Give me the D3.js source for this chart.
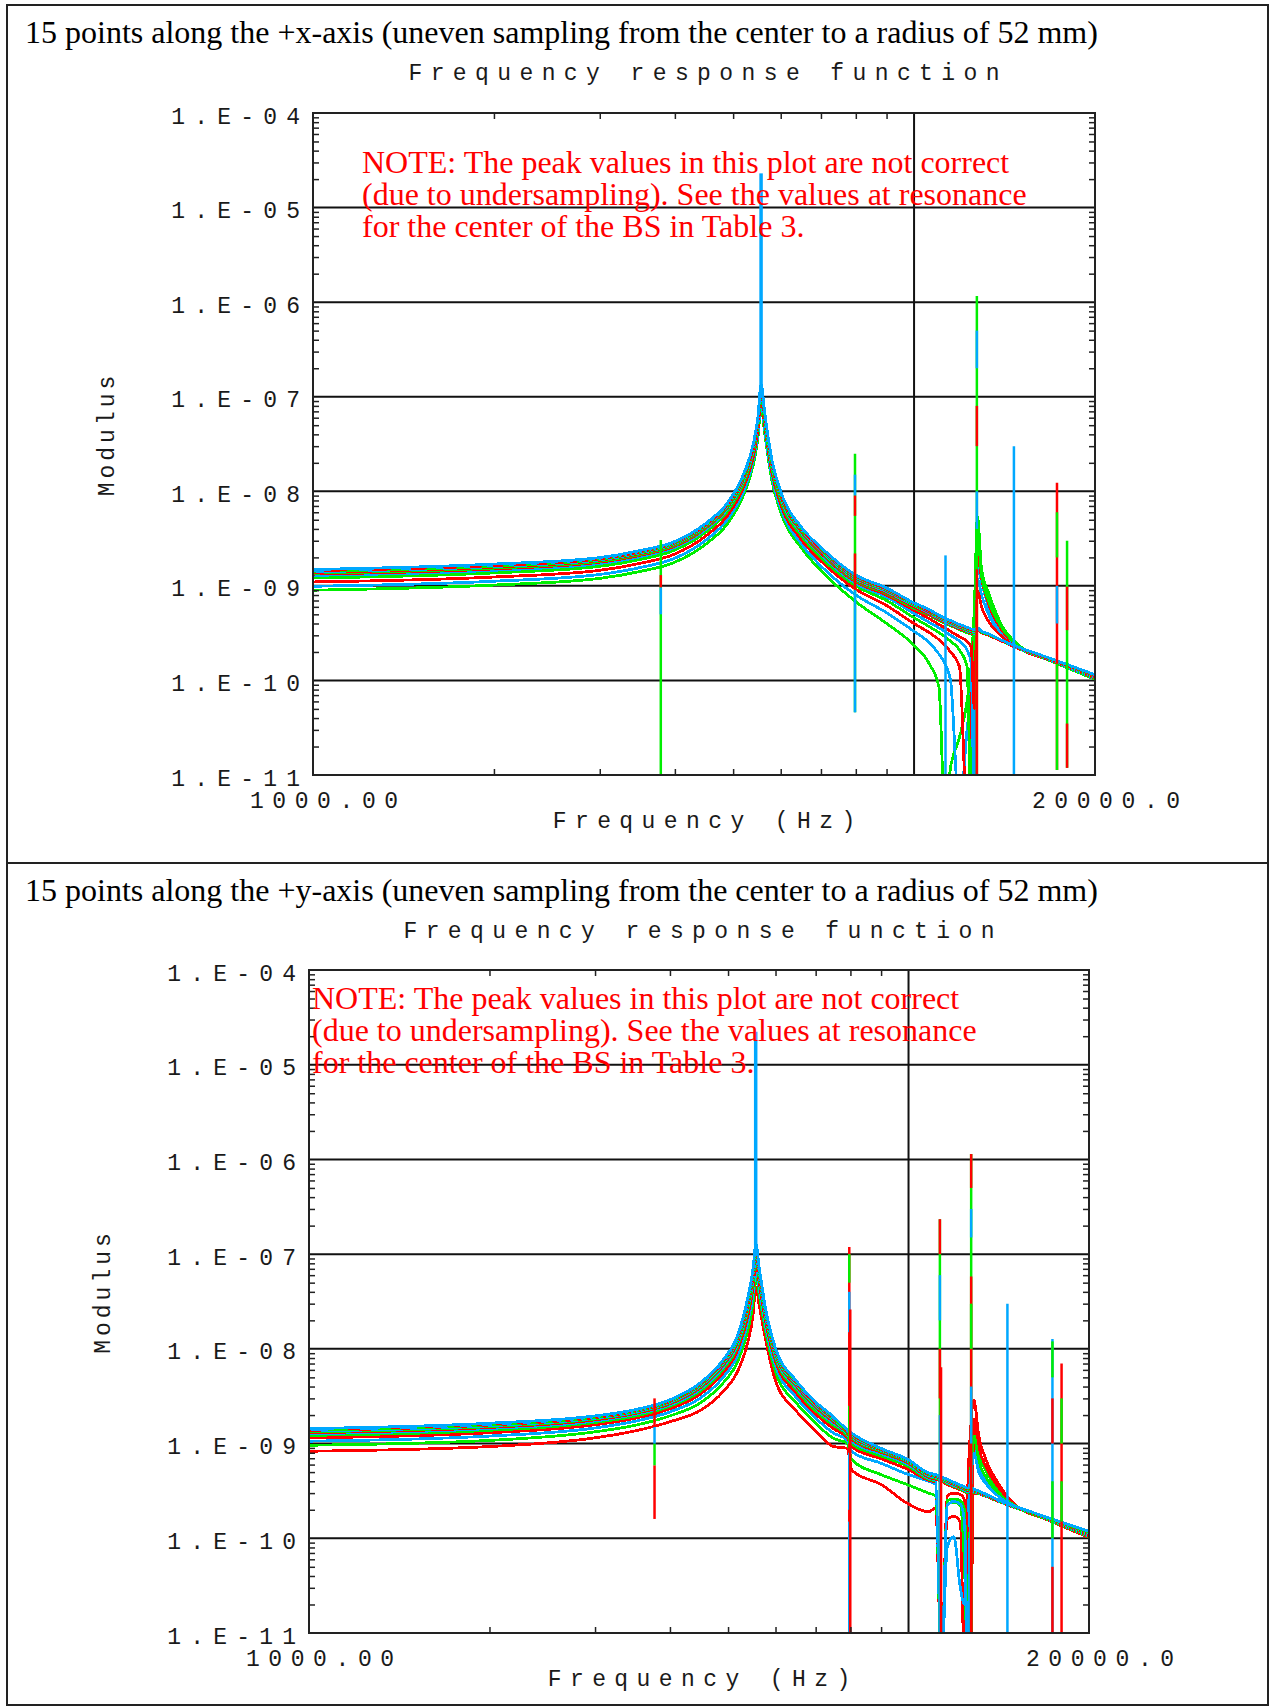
<!DOCTYPE html>
<html>
<head>
<meta charset="utf-8">
<script src="https://cdn.jsdelivr.net/npm/d3@7"></script>
<style>
  html, body { margin: 0; padding: 0; background: #fff; }
  svg { display: block; }
</style>
</head>
<body>
<svg id="chart" width="1275" height="1707"></svg>
<script>
// FRF modulus plots, two panels (+x and +y axis sampling)

const NANO = 1e-9; // curve and spike values below are in units of 1e-9

const HEADER_1 = '15 points along the +x-axis (uneven sampling from the center to a radius of 52 mm)';
const HEADER_2 = '15 points along the +y-axis (uneven sampling from the center to a radius of 52 mm)';
const PLOT_TITLE = 'Frequency response function';
const X_TITLE = 'Frequency (Hz)';
const Y_TITLE = 'Modulus';
const NOTE_LINES = [
    'NOTE: The peak values in this plot are not correct',
    '(due to undersampling). See the values at resonance',
    'for the center of the BS in Table 3.'
];

const Y_TICKS = [1e-4, 1e-5, 1e-6, 1e-7, 1e-8, 1e-9, 1e-10, 1e-11];
const Y_TICK_LABELS = ['1.E-04', '1.E-05', '1.E-06', '1.E-07', '1.E-08', '1.E-09', '1.E-10', '1.E-11'];
const X_DOMAIN = [1000, 20000];
const X_END_LABELS = ['1000.00', '20000.0'];
const X_GRID = [10000];

// panel 1: +x-axis
const FREQ_1 = [1000, 2000, 3000, 3500, 4000, 4500, 4900, 5200, 5400, 5500, 5565, 5640, 5800, 6000, 6500, 7000, 8000, 9000, 10000,
    10600, 11000, 11250, 11500, 11900, 12250, 12450, 12600, 12750, 12950, 13300, 14000, 15000, 17000, 20000];

const CURVES_1 = [
    [0.90, 1.02, 1.20, 1.42, 1.78, 2.75, 4.6, 9.0, 19, 37, 82, 42, 13, 6.0, 2.5, 1.45, 0.68, 0.40, 0.235, 0.15, 0.085, 0.004, 0.012, 0.025, 0.06, 0.15, 0.6, 5.4, 1.5, 0.85, 0.38, 0.23, 0.158, 0.103],
    [0.99, 1.12, 1.32, 1.56, 1.96, 3.03, 5.1, 9.9, 21, 41, 90, 46, 14.3, 6.6, 2.75, 1.62, 0.80, 0.52, 0.33, 0.25, 0.19, 0.15, 0.10, 0.004, 0.03, 0.08, 0.3, 1.6, 1.1, 0.6, 0.33, 0.22, 0.16, 0.105],
    [1.10, 1.24, 1.46, 1.73, 2.17, 3.36, 5.6, 11.0, 23, 45, 100, 51, 15.9, 7.3, 3.05, 1.83, 0.92, 0.62, 0.40, 0.32, 0.27, 0.235, 0.20, 0.14, 0.004, 0.05, 0.35, 2.2, 1.2, 0.65, 0.34, 0.22, 0.161, 0.106],
    [1.21, 1.37, 1.61, 1.90, 2.39, 3.69, 6.2, 12.1, 25.5, 50, 110, 56, 17.4, 8.0, 3.35, 2.00, 1.00, 0.70, 0.46, 0.37, 0.32, 0.29, 0.26, 0.21, 0.14, 0.004, 0.4, 3.6, 1.3, 0.7, 0.36, 0.225, 0.162, 0.107],
    [1.29, 1.46, 1.72, 2.03, 2.55, 3.93, 6.6, 12.9, 27, 53, 117, 60, 18.6, 8.6, 3.58, 2.15, 1.06, 0.76, 0.51, 0.41, 0.36, 0.33, 0.30, 0.26, 0.21, 0.15, 0.004, 1.2, 0.8, 0.5, 0.30, 0.22, 0.162, 0.108],
    [1.33, 1.51, 1.78, 2.10, 2.63, 4.07, 6.8, 13.3, 28, 55, 121, 62, 19.2, 8.9, 3.70, 2.22, 1.10, 0.80, 0.55, 0.45, 0.39, 0.36, 0.33, 0.29, 0.26, 0.22, 0.05, 0.9, 0.6, 0.42, 0.29, 0.215, 0.163, 0.109],
    [1.36, 1.54, 1.81, 2.14, 2.69, 4.15, 6.9, 13.6, 29, 56, 124, 63, 19.6, 9.1, 3.78, 2.28, 1.13, 0.83, 0.58, 0.49, 0.43, 0.40, 0.38, 0.345, 0.32, 0.31, 0.30, 0.34, 0.32, 0.30, 0.26, 0.213, 0.163, 0.110],
    [1.39, 1.58, 1.86, 2.20, 2.76, 4.26, 7.1, 14.0, 29.5, 57, 127, 65, 20.2, 9.3, 3.88, 2.33, 1.16, 0.85, 0.60, 0.50, 0.44, 0.41, 0.39, 0.35, 0.33, 0.315, 0.31, 0.345, 0.32, 0.30, 0.26, 0.214, 0.164, 0.110],
    [1.41, 1.60, 1.88, 2.23, 2.79, 4.32, 7.2, 14.1, 30, 58, 129, 66, 20.4, 9.4, 3.93, 2.36, 1.18, 0.87, 0.62, 0.515, 0.45, 0.42, 0.395, 0.36, 0.335, 0.32, 0.315, 0.35, 0.325, 0.305, 0.262, 0.215, 0.164, 0.111],
    [1.43, 1.62, 1.91, 2.26, 2.83, 4.37, 7.3, 14.3, 30.2, 59, 130, 67, 20.7, 9.5, 3.98, 2.41, 1.20, 0.89, 0.63, 0.525, 0.46, 0.43, 0.405, 0.365, 0.34, 0.325, 0.32, 0.35, 0.325, 0.305, 0.262, 0.216, 0.165, 0.112],
    [1.45, 1.64, 1.93, 2.29, 2.87, 4.43, 7.4, 14.5, 30.6, 60, 132, 68, 20.9, 9.7, 4.03, 2.44, 1.22, 0.90, 0.64, 0.53, 0.465, 0.435, 0.41, 0.37, 0.345, 0.33, 0.325, 0.355, 0.33, 0.31, 0.263, 0.217, 0.165, 0.112],
    [1.46, 1.66, 1.96, 2.31, 2.90, 4.48, 7.5, 14.7, 31, 60.5, 133, 68.5, 21.2, 9.8, 4.08, 2.47, 1.24, 0.91, 0.645, 0.54, 0.47, 0.44, 0.415, 0.375, 0.35, 0.335, 0.33, 0.355, 0.33, 0.31, 0.264, 0.218, 0.166, 0.113],
    [1.47, 1.67, 1.97, 2.33, 2.92, 4.51, 7.55, 14.8, 31.2, 61, 134, 69, 21.3, 9.85, 4.10, 2.49, 1.26, 0.92, 0.65, 0.545, 0.475, 0.445, 0.42, 0.38, 0.355, 0.34, 0.335, 0.36, 0.33, 0.31, 0.265, 0.219, 0.166, 0.113],
    [1.48, 1.68, 1.98, 2.34, 2.94, 4.54, 7.6, 14.9, 31.4, 61.5, 135, 69.5, 21.5, 9.9, 4.13, 2.52, 1.28, 0.93, 0.655, 0.55, 0.483, 0.45, 0.425, 0.385, 0.36, 0.345, 0.34, 0.36, 0.33, 0.31, 0.265, 0.22, 0.167, 0.114],
    [1.49, 1.70, 1.99, 2.36, 2.95, 4.57, 7.65, 15.0, 31.6, 62, 136, 70, 21.6, 10.0, 4.15, 2.55, 1.30, 0.95, 0.66, 0.56, 0.49, 0.455, 0.43, 0.39, 0.365, 0.35, 0.345, 0.36, 0.33, 0.31, 0.266, 0.222, 0.168, 0.115]
];

// undersampled resonances: [frequency, low, high, curve index]
const SPIKES_1 = [
    [3790, 0.005, 3.05, 0], [3790, 0.96, 1.3, 2], [3790, 0.5, 0.96, 1],
    [5565, 125, 23000, 14],
    [7975, 0.046, 25, 3], [7975, 9, 15, 4], [7975, 5.5, 9, 5], [7975, 0.9, 2.2, 7], [7975, 0.046, 0.9, 8],
    [11280, 0.005, 2.1, 11],
    [12720, 0.005, 1160, 6], [12720, 200, 500, 8], [12720, 30, 80, 10], [12720, 4, 10, 11], [12720, 0.005, 1.5, 13],
    [14660, 0.005, 30, 14],
    [17290, 0.0113, 12.3, 10], [17290, 2, 6, 12], [17290, 0.4, 1, 14], [17290, 0.0113, 0.15, 9],
    [17970, 0.0119, 3.0, 12], [17970, 0.34, 0.98, 13], [17970, 0.0119, 0.035, 10]
];

// panel 2: +y-axis
const FREQ_2 = [1000, 2000, 3000, 3500, 4000, 4500, 4900, 5200, 5400, 5500, 5565, 5640, 5800, 6000, 6500, 7000, 7500, 7900, 8050, 9000,
    10000, 10800, 11100, 11350, 11600, 11900, 12200, 12400, 12550, 12700, 12850, 13100, 13500, 14200, 15000, 17000, 20000];

const CURVES_2 = [
    [0.83, 0.93, 1.15, 1.36, 1.70, 2.25, 3.5, 6.0, 12, 22, 45, 28, 11, 4.6, 2.2, 1.35, 0.93, 0.89, 0.52, 0.37, 0.23, 0.19, 0.21, 0.004, 0.16, 0.17, 0.15, 0.004, 0.3, 1.5, 2.9, 1.2, 0.65, 0.36, 0.23, 0.158, 0.102],
    [0.96, 1.08, 1.33, 1.56, 1.96, 2.70, 4.32, 7.6, 16.1, 29.8, 59.7, 35.9, 13.4, 5.7, 2.68, 1.64, 1.13, 1.01, 0.67, 0.47, 0.365, 0.30, 0.28, 0.004, 0.23, 0.24, 0.22, 0.05, 0.004, 0.5, 1.6, 0.8, 0.5, 0.31, 0.225, 0.159, 0.104],
    [1.06, 1.20, 1.46, 1.72, 2.16, 3.04, 4.96, 8.9, 19.7, 36.6, 72, 42.3, 15.3, 6.6, 3.06, 1.86, 1.29, 1.09, 0.82, 0.62, 0.47, 0.40, 0.37, 0.004, 0.08, 0.104, 0.03, 0.02, 0.15, 0.5, 1.0, 0.55, 0.4, 0.28, 0.222, 0.16, 0.105],
    [1.15, 1.30, 1.58, 1.85, 2.33, 3.34, 5.53, 10.1, 22.9, 42.8, 83.4, 48.1, 17.0, 7.4, 3.40, 2.05, 1.43, 1.16, 0.92, 0.69, 0.53, 0.41, 0.39, 0.004, 0.28, 0.30, 0.29, 0.25, 0.10, 0.004, 1.8, 0.9, 0.55, 0.33, 0.228, 0.161, 0.106],
    [1.22, 1.38, 1.67, 1.95, 2.47, 3.60, 6.03, 11.1, 25.9, 48.5, 93.5, 53.2, 18.4, 8.0, 3.69, 2.22, 1.55, 1.22, 0.99, 0.74, 0.57, 0.42, 0.40, 0.004, 0.25, 0.26, 0.25, 0.20, 0.01, 0.3, 1.2, 0.65, 0.43, 0.29, 0.224, 0.161, 0.107],
    [1.27, 1.44, 1.73, 2.03, 2.56, 3.77, 6.36, 11.8, 28.0, 52.5, 100.6, 56.7, 19.4, 8.5, 3.88, 2.34, 1.63, 1.26, 1.05, 0.78, 0.60, 0.43, 0.41, 0.004, 0.22, 0.245, 0.23, 0.15, 0.004, 0.3, 0.8, 0.5, 0.37, 0.27, 0.22, 0.162, 0.108],
    [1.30, 1.48, 1.78, 2.08, 2.63, 3.90, 6.62, 12.4, 29.5, 55.5, 106, 59.4, 20.1, 8.8, 4.03, 2.42, 1.69, 1.29, 1.10, 0.81, 0.62, 0.44, 0.42, 0.40, 0.37, 0.345, 0.325, 0.31, 0.30, 0.31, 0.30, 0.295, 0.275, 0.242, 0.212, 0.162, 0.109],
    [1.33, 1.51, 1.82, 2.12, 2.69, 4.00, 6.82, 12.8, 30.9, 58.1, 110.6, 61.6, 20.7, 9.1, 4.15, 2.49, 1.74, 1.31, 1.14, 0.83, 0.635, 0.45, 0.43, 0.41, 0.38, 0.355, 0.33, 0.315, 0.305, 0.315, 0.305, 0.298, 0.277, 0.243, 0.213, 0.163, 0.110],
    [1.355, 1.54, 1.85, 2.15, 2.73, 4.09, 6.98, 13.2, 31.9, 60.1, 114.1, 63.3, 21.2, 9.35, 4.24, 2.54, 1.77, 1.33, 1.17, 0.85, 0.645, 0.46, 0.44, 0.42, 0.39, 0.36, 0.34, 0.32, 0.31, 0.32, 0.31, 0.30, 0.279, 0.244, 0.214, 0.163, 0.111],
    [1.38, 1.57, 1.88, 2.19, 2.78, 4.17, 7.15, 13.5, 33.0, 62.2, 117.7, 65.0, 21.7, 9.6, 4.33, 2.60, 1.81, 1.35, 1.19, 0.86, 0.65, 0.47, 0.45, 0.425, 0.395, 0.37, 0.345, 0.33, 0.32, 0.325, 0.315, 0.303, 0.281, 0.245, 0.215, 0.164, 0.112],
    [1.39, 1.58, 1.90, 2.21, 2.81, 4.22, 7.26, 13.7, 33.7, 63.6, 120.2, 66.2, 22.0, 9.7, 4.40, 2.64, 1.84, 1.36, 1.21, 0.87, 0.655, 0.475, 0.455, 0.43, 0.40, 0.375, 0.35, 0.335, 0.325, 0.33, 0.32, 0.306, 0.283, 0.246, 0.216, 0.164, 0.113],
    [1.41, 1.60, 1.92, 2.23, 2.84, 4.28, 7.37, 14.0, 34.4, 65.0, 122.8, 67.5, 22.3, 9.9, 4.46, 2.67, 1.87, 1.375, 1.23, 0.875, 0.66, 0.48, 0.46, 0.435, 0.405, 0.38, 0.355, 0.34, 0.33, 0.335, 0.322, 0.308, 0.285, 0.247, 0.217, 0.165, 0.114],
    [1.42, 1.62, 1.93, 2.25, 2.86, 4.32, 7.46, 14.2, 35.0, 66.1, 124.7, 68.4, 22.6, 10.0, 4.51, 2.70, 1.89, 1.385, 1.25, 0.88, 0.665, 0.483, 0.463, 0.44, 0.41, 0.383, 0.358, 0.343, 0.333, 0.338, 0.325, 0.31, 0.287, 0.248, 0.218, 0.165, 0.115],
    [1.43, 1.63, 1.95, 2.27, 2.88, 4.37, 7.55, 14.4, 35.6, 67.2, 126.7, 69.4, 22.8, 10.1, 4.56, 2.73, 1.91, 1.39, 1.27, 0.885, 0.67, 0.487, 0.466, 0.443, 0.415, 0.387, 0.362, 0.347, 0.337, 0.342, 0.328, 0.312, 0.289, 0.249, 0.219, 0.166, 0.116],
    [1.44, 1.64, 1.96, 2.28, 2.90, 4.40, 7.6, 14.5, 36, 68, 128, 70, 23, 10.2, 4.6, 2.75, 1.92, 1.40, 1.28, 0.89, 0.675, 0.49, 0.47, 0.445, 0.42, 0.39, 0.365, 0.35, 0.34, 0.345, 0.33, 0.315, 0.29, 0.25, 0.22, 0.167, 0.118]
];

const SPIKES_2 = [
    [3770, 0.16, 0.59, 0], [3770, 0.59, 1.0, 1], [3770, 1.0, 1.5, 2], [3770, 1.5, 3.0, 3],
    [5560, 125, 22300, 14],
    [7965, 0.005, 119, 3], [7965, 50, 100, 4], [7965, 15, 40, 5], [7965, 3, 10, 6], [7965, 1, 2.5, 7], [7965, 0.2, 0.8, 8], [7965, 0.005, 0.15, 11],
    [7995, 0.005, 26, 9],
    [11280, 0.005, 234, 7], [11280, 100, 234, 9], [11280, 20, 60, 8], [11280, 3, 10, 12], [11280, 0.005, 2, 11],
    [11330, 0.005, 6.4, 12],
    [12720, 0.005, 1140, 10], [12720, 500, 1140, 12], [12720, 150, 300, 11], [12720, 0.005, 58, 9], [12720, 10, 30, 13], [12720, 1, 4, 14],
    [14620, 0.005, 30, 14],
    [17380, 0.005, 12.7, 14], [17380, 5, 12, 13], [17380, 1, 3, 12], [17380, 0.1, 0.4, 10], [17380, 0.005, 0.05, 9],
    [18000, 0.005, 7, 12], [18000, 1, 3, 13], [18000, 0.15, 0.4, 10]
];

// styles
const LINE_COLORS = { G: '#00ee00', R: '#ff0000', B: '#00a8ff' };
const SERIES_COLORS_1 = ['G', 'B', 'R', 'G', 'B', 'R', 'G', 'R', 'B', 'G', 'R', 'B', 'G', 'R', 'B'];
const SERIES_COLORS_2 = ['R', 'G', 'B', 'R', 'G', 'B', 'R', 'G', 'B', 'R', 'G', 'B', 'R', 'G', 'B'];
const SERIF = "'Liberation Serif', 'Times New Roman', serif";
const MONO = "'Liberation Mono', 'DejaVu Sans Mono', monospace";
const MONO_SIZE = 23;
const INK = '#1a1a1a';

const PANELS = [
    { header: HEADER_1, headerY: 43, freqs: FREQ_1, curves: CURVES_1, spikes: SPIKES_1, colors: SERIES_COLORS_1,
      left: 313, right: 1095, top: 113, bottom: 775, titleY: 80, noteX: 362, noteY: 173 },
    { header: HEADER_2, headerY: 901, freqs: FREQ_2, curves: CURVES_2, spikes: SPIKES_2, colors: SERIES_COLORS_2,
      left: 309, right: 1089, top: 970, bottom: 1633, titleY: 938, noteX: 312, noteY: 1009 }
];

const svg = d3.select('#chart');

// page frame (table borders)
const frame = svg.append('g').attr('stroke', '#222').attr('stroke-width', 2).attr('fill', 'none');
frame.append('rect').attr('x', 7).attr('y', 5).attr('width', 1261).attr('height', 1700);
frame.append('line').attr('x1', 7).attr('x2', 1268).attr('y1', 863).attr('y2', 863);

function monoText(g, str, x, y, anchor, spacing) {
    // letter-spacing adds trailing space, shift to keep the visible glyphs in place
    let dx = 0;
    if (anchor === 'end') dx = spacing;
    if (anchor === 'middle') dx = spacing / 2;
    return g.append('text')
        .text(str)
        .attr('x', x + dx)
        .attr('y', y)
        .attr('text-anchor', anchor)
        .attr('font-family', MONO)
        .attr('font-size', MONO_SIZE + 'px')
        .attr('letter-spacing', spacing + 'px')
        .attr('fill', INK);
}

function isDecade(v) {
    const e = Math.log10(v);
    return Math.abs(e - Math.round(e)) < 1e-6;
}

function drawPanel(p, idx) {
    const x = d3.scaleLog().domain(X_DOMAIN).range([p.left, p.right]);
    const y = d3.scaleLog().domain([Y_TICKS[Y_TICKS.length - 1], Y_TICKS[0]]).range([p.bottom, p.top]);
    const cx = (p.left + p.right) / 2;
    const cy = (p.top + p.bottom) / 2;

    const clipId = 'plot-clip-' + idx;
    svg.append('clipPath').attr('id', clipId)
        .append('rect')
        .attr('x', p.left).attr('y', p.top)
        .attr('width', p.right - p.left).attr('height', p.bottom - p.top);

    // Grid
    const grid = svg.append('g').attr('stroke', '#111').attr('stroke-width', 2);
    grid.selectAll('line.h')
        .data(Y_TICKS.slice(1, -1))
        .join('line')
        .attr('class', 'h')
        .attr('x1', p.left).attr('x2', p.right)
        .attr('y1', d => y(d)).attr('y2', d => y(d));
    grid.selectAll('line.v')
        .data(X_GRID)
        .join('line')
        .attr('class', 'v')
        .attr('x1', d => x(d)).attr('x2', d => x(d))
        .attr('y1', p.top).attr('y2', p.bottom);

    // Curves
    const plot = svg.append('g').attr('clip-path', `url(#${clipId})`);
    const line = d3.line()
        .x((d, j) => x(p.freqs[j]))
        .y(d => y(d * NANO))
        .curve(d3.curveMonotoneX);

    plot.append('g')
        .selectAll('path')
        .data(p.curves)
        .join('path')
        .attr('d', line)
        .attr('fill', 'none')
        .attr('stroke', (d, i) => LINE_COLORS[p.colors[i]])
        .attr('stroke-width', 2.8)
        .attr('stroke-linejoin', 'round')
        .attr('shape-rendering', 'crispEdges');

    // Undersampled resonance spikes
    plot.append('g')
        .selectAll('line')
        .data(p.spikes)
        .join('line')
        .attr('x1', d => x(d[0])).attr('x2', d => x(d[0]))
        .attr('y1', d => y(d[1] * NANO)).attr('y2', d => y(d[2] * NANO))
        .attr('stroke', d => LINE_COLORS[p.colors[d[3]]])
        .attr('stroke-width', d => d[2] > 1e4 ? 3.5 : 2.5);

    // Plot frame
    svg.append('rect')
        .attr('x', p.left).attr('y', p.top)
        .attr('width', p.right - p.left).attr('height', p.bottom - p.top)
        .attr('fill', 'none').attr('stroke', '#222').attr('stroke-width', 2);

    // Minor ticks, pointing inward on all four sides
    const yMinor = y.ticks().filter(v => !isDecade(v));
    const xMinor = x.ticks().filter(v => v > X_DOMAIN[0] && v < X_GRID[0]);
    const ticks = svg.append('g');
    ticks.append('g').attr('transform', `translate(${p.left},0)`)
        .call(d3.axisLeft(y).tickValues(yMinor).tickSize(-6).tickFormat(''));
    ticks.append('g').attr('transform', `translate(${p.right},0)`)
        .call(d3.axisRight(y).tickValues(yMinor).tickSize(-6).tickFormat(''));
    ticks.append('g').attr('transform', `translate(0,${p.bottom})`)
        .call(d3.axisBottom(x).tickValues(xMinor).tickSize(-6).tickFormat(''));
    ticks.append('g').attr('transform', `translate(0,${p.top})`)
        .call(d3.axisTop(x).tickValues(xMinor).tickSize(-6).tickFormat(''));
    ticks.selectAll('.domain').remove();
    ticks.selectAll('line').attr('stroke', '#222').attr('stroke-width', 1.5);

    // Labels
    const labels = svg.append('g');
    Y_TICKS.forEach((v, i) => {
        monoText(labels, Y_TICK_LABELS[i], p.left - 13, y(v) + 10.5, 'end', 9.2);
    });
    monoText(labels, X_END_LABELS[0], x(X_DOMAIN[0]) + 11, p.bottom + 33, 'middle', 8.6);
    monoText(labels, X_END_LABELS[1], x(X_DOMAIN[1]) + 11, p.bottom + 33, 'middle', 8.6);
    monoText(labels, X_TITLE, cx, p.bottom + 53, 'middle', 8.4);
    monoText(labels, PLOT_TITLE, cx, p.titleY, 'middle', 8.4);
    monoText(labels, Y_TITLE, 0, 0, 'middle', 4.0)
        .attr('transform', `translate(${p.left - 199},${cy - 8}) rotate(-90)`);

    // Header line above the plot
    svg.append('text')
        .text(p.header)
        .attr('x', 25).attr('y', p.headerY)
        .attr('font-family', SERIF).attr('font-size', '32px')
        .attr('fill', '#000');

    // Red note
    const note = svg.append('g');
    NOTE_LINES.forEach((t, i) => {
        note.append('text')
            .text(t)
            .attr('x', p.noteX).attr('y', p.noteY + i * 32)
            .attr('font-family', SERIF).attr('font-size', '32px')
            .attr('fill', '#ff0000');
    });
}

PANELS.forEach(drawPanel);
</script>
</body>
</html>
